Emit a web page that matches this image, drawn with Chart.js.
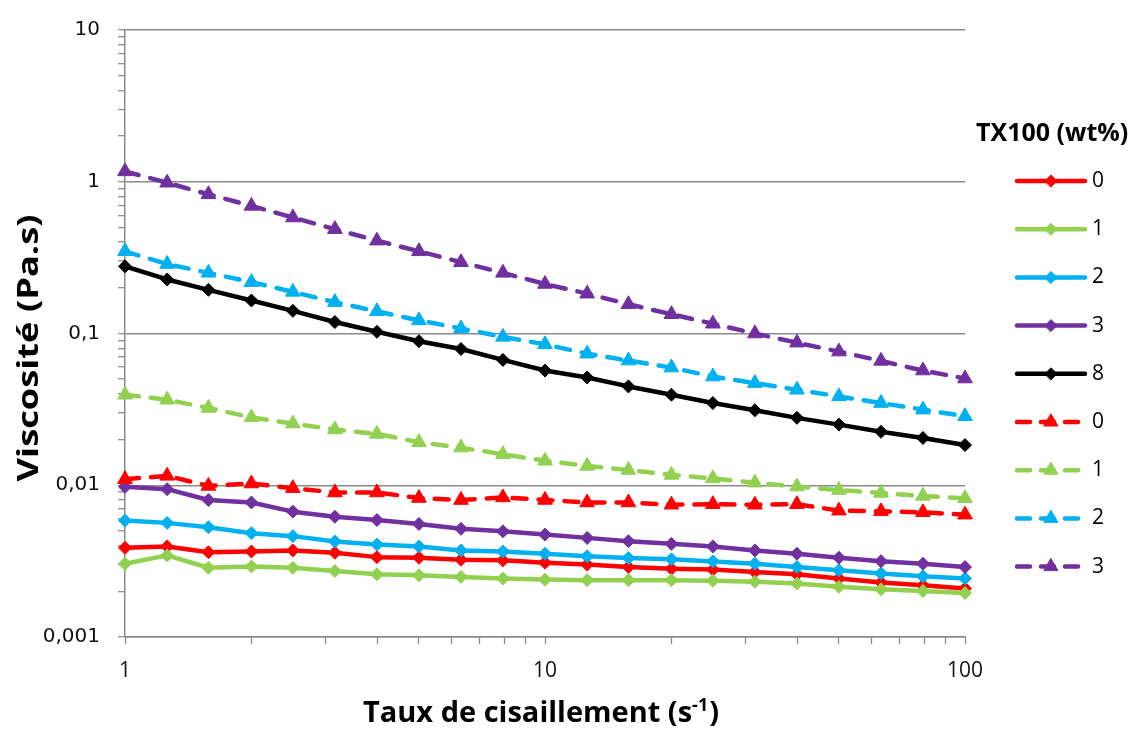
<!DOCTYPE html>
<html>
<head>
<meta charset="utf-8">
<script src="https://cdn.jsdelivr.net/npm/chart.js@4.4.1/dist/chart.umd.min.js"></script>
<style>
  html, body { margin: 0; padding: 0; background: #ffffff; }
  #wrap { width: 1133px; height: 734px; position: relative; }
</style>
</head>
<body>
<div id="wrap"><canvas id="chart" width="1133" height="734"></canvas></div>
<script>
// Shear rate (s-1) and viscosity (Pa.s) for each TX100 content
const shearRates = [1, 1.26, 1.58, 2, 2.51, 3.16, 3.98, 5.01, 6.31, 7.94, 10, 12.6, 15.8, 20, 25.1, 31.6, 39.8, 50.1, 63.1, 79.4, 100];

// solid series (diamonds)
const viscA0 = [0.00387, 0.00395, 0.00362, 0.00366, 0.00372, 0.00359, 0.00336, 0.00333, 0.00323, 0.0032, 0.00309, 0.0030, 0.00289, 0.00282, 0.00278, 0.00268, 0.00259, 0.00243, 0.00229, 0.00219, 0.00209];
const viscA1 = [0.00304, 0.00345, 0.00286, 0.00292, 0.00286, 0.00272, 0.00259, 0.00255, 0.00249, 0.00243, 0.00239, 0.00237, 0.00237, 0.00237, 0.00235, 0.00231, 0.00225, 0.00214, 0.00206, 0.00201, 0.00195];
const viscA2 = [0.00585, 0.00565, 0.00529, 0.00483, 0.00462, 0.00426, 0.00407, 0.00395, 0.00372, 0.00366, 0.00354, 0.0034, 0.00331, 0.00325, 0.00315, 0.00304, 0.00289, 0.00275, 0.00262, 0.00251, 0.00243];
const viscA3 = [0.00976, 0.00942, 0.00799, 0.0077, 0.0067, 0.0062, 0.0059, 0.00556, 0.00516, 0.00497, 0.00473, 0.0045, 0.00428, 0.00411, 0.00395, 0.00372, 0.00354, 0.00333, 0.00316, 0.00304, 0.00289];
const viscA8 = [0.277, 0.227, 0.194, 0.165, 0.141, 0.119, 0.1026, 0.089, 0.079, 0.067, 0.057, 0.0513, 0.0448, 0.0395, 0.0348, 0.0312, 0.0278, 0.0251, 0.0225, 0.0205, 0.0184];

// dashed series (triangles)
const viscB0 = [0.01096, 0.01153, 0.0099, 0.01026, 0.00957, 0.00896, 0.00896, 0.00824, 0.00799, 0.00831, 0.0080, 0.0077, 0.0077, 0.00744, 0.0075, 0.00744, 0.0075, 0.0068, 0.00673, 0.00663, 0.0064];
const viscB1 = [0.0395, 0.0366, 0.0323, 0.0280, 0.0255, 0.0233, 0.0218, 0.0192, 0.0177, 0.0160, 0.0145, 0.0134, 0.0126, 0.0117, 0.0111, 0.0104, 0.0098, 0.0093, 0.0089, 0.0085, 0.0082];
const viscB2 = [0.348, 0.287, 0.251, 0.218, 0.188, 0.161, 0.140, 0.122, 0.108, 0.095, 0.0848, 0.0736, 0.0663, 0.0596, 0.052, 0.0471, 0.0426, 0.0385, 0.0348, 0.0315, 0.0285];
const viscB3 = [1.17, 0.985, 0.826, 0.693, 0.581, 0.487, 0.409, 0.348, 0.295, 0.251, 0.212, 0.183, 0.156, 0.134, 0.116, 0.100, 0.087, 0.076, 0.066, 0.057, 0.0505];

const seriesLabels = ['0', '1', '2', '3', '8', '0', '1', '2', '3'];
const legendTitle = 'TX100 (wt%)';
const xTitle = 'Taux de cisaillement (s';
const xTitleSup = '-1';
const yTitle = 'Viscosité (Pa.s)';

const yTickValues = [0.001, 0.01, 0.1, 1, 10];
const yTickLabels = ['0,001', '0,01', '0,1', '1', '10'];
const xTickValues = [1, 10, 100];
const xTickLabels = ['1', '10', '100'];

const RED = '#ff0000', GREEN = '#92d050', BLUE = '#00b0f0', PURPLE = '#7030a0', BLACK = '#000000';
const GRID = '#8a8a8a';

function series(values, label, color, dashed, idx) {
  return {
    label: label,
    data: shearRates.map((x, i) => ({ x: x, y: values[i] })),
    borderColor: color,
    backgroundColor: color,
    borderWidth: 4.5,
    borderDash: dashed ? [14, 12] : [],
    borderCapStyle: 'round',
    borderJoinStyle: 'round',
    pointStyle: dashed ? 'triangle' : 'rectRot',
    pointRadius: dashed ? 8.5 : 6.5,
    pointBorderWidth: 1,
    pointBackgroundColor: color,
    pointBorderColor: color,
    tension: 0,
    clip: false,
    order: 20 - idx
  };
}

const datasets = [
  series(viscA0, seriesLabels[0], RED, false, 0),
  series(viscA1, seriesLabels[1], GREEN, false, 1),
  series(viscA2, seriesLabels[2], BLUE, false, 2),
  series(viscA3, seriesLabels[3], PURPLE, false, 3),
  series(viscA8, seriesLabels[4], BLACK, false, 4),
  series(viscB0, seriesLabels[5], RED, true, 5),
  series(viscB1, seriesLabels[6], GREEN, true, 6),
  series(viscB2, seriesLabels[7], BLUE, true, 7),
  series(viscB3, seriesLabels[8], PURPLE, true, 8)
];

// decade ticks with the 2..9 minor ticks in between
function logTicks(lo, hi) {
  const out = [];
  for (let e = Math.round(Math.log10(lo)); e <= Math.round(Math.log10(hi)); e++) {
    const base = Math.pow(10, e);
    for (let m = 1; m <= 9; m++) {
      const v = parseFloat((m * base).toPrecision(6));
      if (v >= lo * 0.999 && v <= hi * 1.001) out.push({ value: v });
    }
  }
  return out;
}
function labelFor(value, values, labels) {
  for (let i = 0; i < values.length; i++) {
    if (Math.abs(value - values[i]) / values[i] < 1e-6) return labels[i];
  }
  return '';
}
function isDecade(v) {
  const l = Math.log10(v);
  return Math.abs(l - Math.round(l)) < 1e-6;
}

// axis titles and the legend block on the right
const decorations = {
  id: 'decorations',
  afterDraw(chart) {
    const ctx = chart.ctx;
    ctx.save();

    // x title with superscript
    const mainFont = 'bold 29px "Open Sans"';
    const supFont = 'bold 18px "Open Sans"';
    ctx.font = mainFont;
    const w1 = ctx.measureText(xTitle).width;
    const w3 = ctx.measureText(')').width;
    ctx.font = supFont;
    const w2 = ctx.measureText(xTitleSup).width;
    const total = w1 + w2 + w3 + 1;
    const cx = 541;
    let x = cx - total / 2;
    const base = 722;
    ctx.fillStyle = '#000';
    ctx.textAlign = 'left';
    ctx.textBaseline = 'alphabetic';
    ctx.font = mainFont;
    ctx.fillText(xTitle, x, base);
    x += w1;
    ctx.font = supFont;
    ctx.fillText(xTitleSup, x, base - 11);
    x += w2 + 1;
    ctx.font = mainFont;
    ctx.fillText(')', x, base);

    // y title, set wide along its baseline like the y tick labels
    ctx.save();
    ctx.translate(30, 348);
    ctx.rotate(-Math.PI / 2);
    ctx.scale(1.25, 1);
    ctx.font = 'bold 29px "Open Sans"';
    ctx.textAlign = 'center';
    ctx.textBaseline = 'middle';
    ctx.fillText(yTitle, 0, 0);
    ctx.restore();

    // legend
    ctx.font = 'bold 25px "Open Sans"';
    ctx.textAlign = 'left';
    ctx.textBaseline = 'middle';
    ctx.fillStyle = '#000';
    ctx.fillText(legendTitle, 976, 134);

    const rowTop = 181, rowStep = 48.2;
    chart.data.datasets.forEach((ds, i) => {
      const y = rowTop + i * rowStep;
      ctx.save();
      ctx.strokeStyle = ds.borderColor;
      ctx.lineWidth = 4.5;
      ctx.lineCap = 'round';
      ctx.setLineDash(ds.borderDash.length ? [13, 11] : []);
      ctx.beginPath();
      ctx.moveTo(1017, y);
      ctx.lineTo(ds.borderDash.length ? 1078 : 1085, y);
      ctx.stroke();
      ctx.setLineDash([]);
      ctx.fillStyle = ds.pointBackgroundColor;
      ctx.strokeStyle = ds.pointBorderColor;
      ctx.lineWidth = 1;
      Chart.helpers.drawPoint(ctx, {
        pointStyle: ds.pointStyle,
        radius: ds.pointStyle === 'triangle' ? 8 : 6,
        rotation: 0,
        borderWidth: 1
      }, 1051, y);
      ctx.restore();
      ctx.fillStyle = '#000';
      ctx.font = '21px "Open Sans"';
      ctx.textBaseline = 'middle';
      ctx.fillText(ds.label, 1092, y);
    });
    ctx.restore();
  }
};

new Chart(document.getElementById('chart'), {
  type: 'line',
  data: { datasets: datasets },
  options: {
    responsive: false,
    animation: false,
    devicePixelRatio: 1,
    events: [],
    layout: { padding: { left: 0, top: 26, right: 168, bottom: 0 } },
    plugins: {
      legend: { display: false },
      tooltip: { enabled: false },
      title: { display: false }
    },
    scales: {
      x: {
        type: 'logarithmic',
        position: 'bottom',
        min: 1,
        max: 100,
        afterBuildTicks: (scale) => { scale.ticks = logTicks(1, 100); },
        afterFit: (scale) => { scale.height = 97; },
        border: { display: true, color: GRID, width: 1.5 },
        grid: {
          drawOnChartArea: false,
          drawTicks: true,
          tickLength: 7,
          tickColor: GRID,
          tickWidth: 1.25
        },
        ticks: {
          autoSkip: false,
          maxRotation: 0,
          padding: 14,
          color: '#111',
          font: { family: '"Open Sans"', size: 21 },
          callback: (v) => labelFor(v, xTickValues, xTickLabels)
        }
      },
      y: {
        type: 'logarithmic',
        position: 'left',
        min: 0.001,
        max: 10,
        afterBuildTicks: (scale) => { scale.ticks = logTicks(0.001, 10); },
        afterFit: (scale) => { scale.width = 125; },
        border: { display: true, color: GRID, width: 1.5 },
        grid: {
          color: (c) => (c.tick && isDecade(c.tick.value)) ? GRID : 'rgba(0,0,0,0)',
          lineWidth: 1.4,
          drawTicks: true,
          tickLength: 7,
          tickColor: GRID,
          tickWidth: 1.25
        },
        ticks: {
          autoSkip: false,
          padding: 18,
          color: '#111',
          font: { family: '"DejaVu Sans"', size: 20 },
          callback: (v) => labelFor(v, yTickValues, yTickLabels)
        }
      }
    }
  },
  plugins: [decorations]
});
</script>
</body>
</html>
